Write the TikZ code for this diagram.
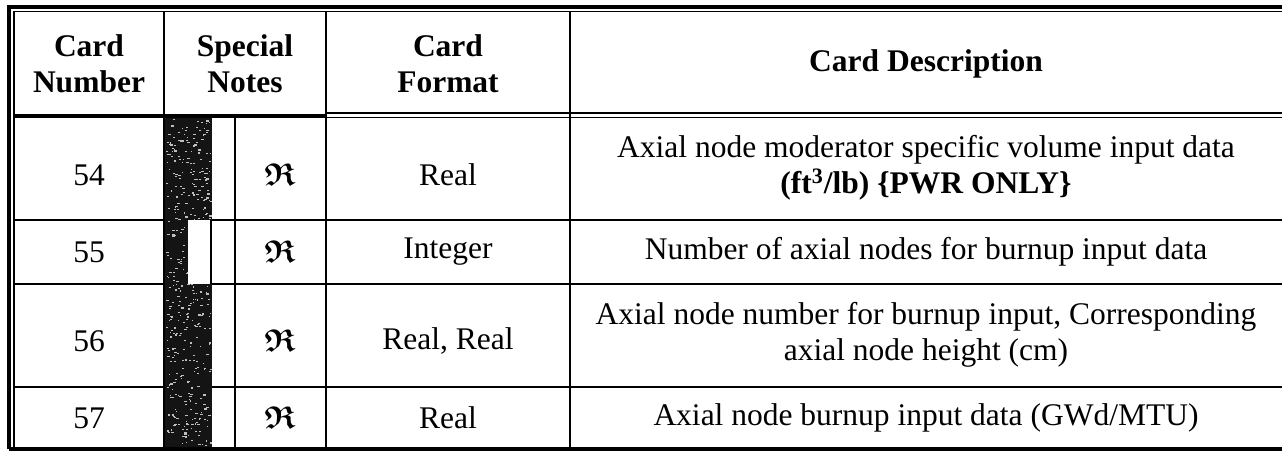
\documentclass[tikz,border=0pt]{standalone}
\usepackage{fontspec}
\setmainfont{Liberation Serif}
\usepackage{amssymb}
\usepackage{bm}
\begin{document}
\begin{tikzpicture}[x=0.5pt,y=-0.5pt,
  grid/.style={line width=1.1pt, black},
  border/.style={line width=1.6pt, black},
  thinb/.style={line width=0.9pt, black},
  speck/.style={fill=white!75!black},
  txt/.style={font=\fontsize{15.75}{18}\selectfont, align=center, inner sep=0pt},
  hdr/.style={font=\fontsize{15.75}{18}\selectfont\bfseries, align=center, inner sep=0pt},
  sym/.style={font=\fontsize{15.75}{18}\selectfont, inner sep=0pt},
  ]
\useasboundingbox (0,0) rectangle (1282,451);
% shaded change bar
\fill[black!92] (165,117) rectangle (212,449);
\pgfmathsetseed{4242}
\foreach \i in {1,...,420} {
  \pgfmathsetmacro{\sx}{166+44*rnd}
  \pgfmathsetmacro{\sy}{119+328*rnd}
  \pgfmathsetmacro{\sw}{1+2*rnd}
  \fill[speck] (\sx,\sy) rectangle ++(\sw,1.2);
}
\fill[white] (188,220) rectangle (210,284);
% outer border
\draw[border] (9,449) -- (9,7) -- (1282,7);
\draw[thinb] (14,449) -- (14,11.5) -- (1282,11.5);
\draw[border] (9,449) -- (1282,449);
% header bottom
\draw[border] (14,116) -- (326,116);
\draw[thinb] (326,113) -- (1282,113);
\draw[thinb] (326,117.5) -- (1282,117.5);
% vertical lines
\draw[grid] (164,11) -- (164,449);
\draw[grid] (326,11) -- (326,449);
\draw[grid] (570,11) -- (570,449);
\draw[grid] (235,117) -- (235,449);
\draw[grid] (211,220) -- (211,284);
% row lines
\foreach \yy in {220,284,387} {
  \draw[grid] (14,\yy) -- (165,\yy);
  \draw[grid] (212,\yy) -- (1282,\yy);
}
% header
\node[hdr] (h1) at (89,64) {Card\\Number};
\node[hdr] (h2) at (245,64) {Special\\Notes};
\node[hdr] (h3) at (448,64) {Card\\Format};
\node[hdr] (h4) at (926,64) {Card Description};
% row 54
\node[txt] (c54) at (89,175) {54};
\node[sym] (s54) at (280,175) {$\bm{\mathfrak{R}}$};
\node[txt] (f54) at (448,175) {Real};
\node[txt] (d54) at (926,168) {Axial node moderator specific volume input data\\\textbf{(ft\textsuperscript{3}/lb) \{PWR ONLY\}}};
% row 55
\node[txt] (c55) at (89,252) {55};
\node[sym] (s55) at (280,252) {$\bm{\mathfrak{R}}$};
\node[txt] (f55) at (448,252) {Integer};
\node[txt] (d55) at (926,252) {Number of axial nodes for burnup input data};
% row 56
\node[txt] (c56) at (89,341) {56};
\node[sym] (s56) at (280,341) {$\bm{\mathfrak{R}}$};
\node[txt] (f56) at (448,341) {Real, Real};
\node[txt] (d56) at (926,335) {Axial node number for burnup input, Corresponding\\axial node height (cm)};
% row 57
\node[txt] (c57) at (89,418) {57};
\node[sym] (s57) at (280,418) {$\bm{\mathfrak{R}}$};
\node[txt] (f57) at (448,418) {Real};
\node[txt] (d57) at (926,418) {Axial node burnup input data (GWd/MTU)};
\end{tikzpicture}
\end{document}
